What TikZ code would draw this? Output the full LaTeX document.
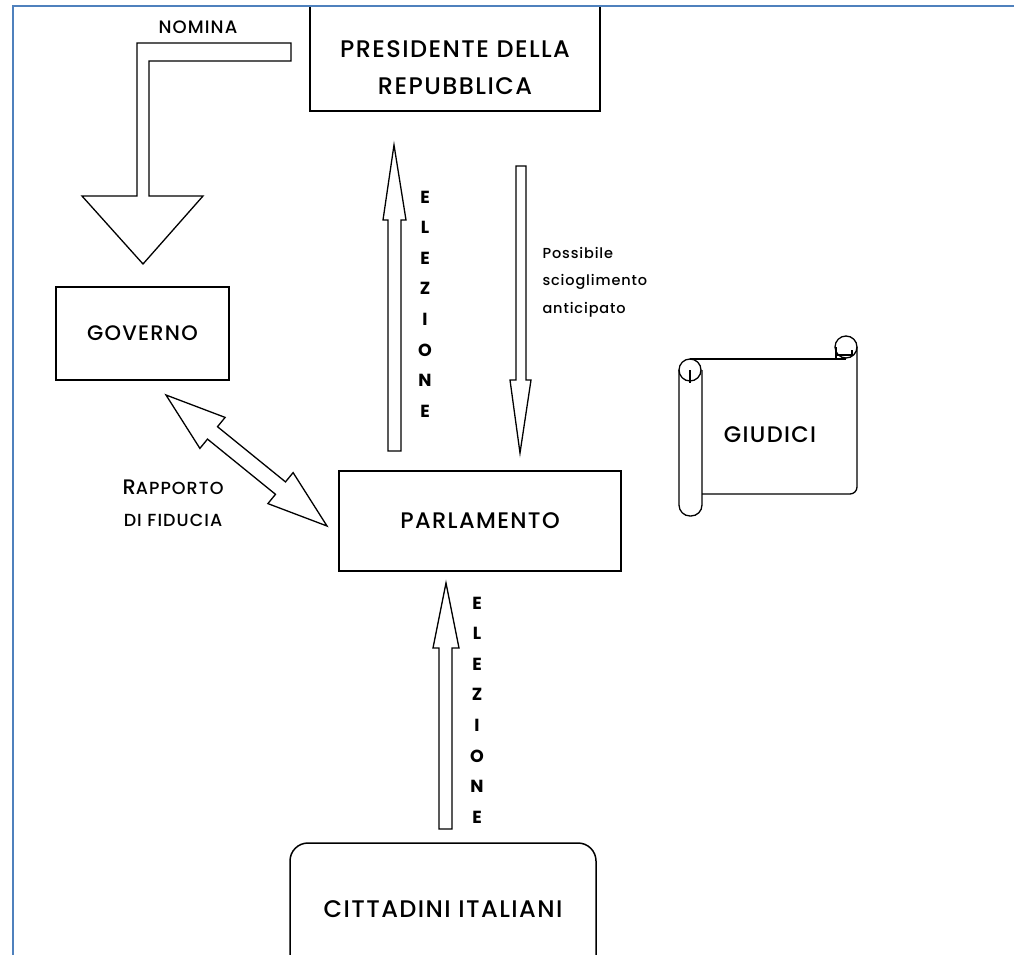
\documentclass[tikz,border=0pt]{standalone}
\usepackage{fontspec}
\setmainfont{Poppins}[LetterSpace=6,BoldFont={Poppins Medium}]
\newfontfamily\elfont{Poppins}
\definecolor{framebl}{HTML}{4F81BD}
\tikzset{
  box/.style={draw=black, line width=1.5pt, inner sep=0pt},
  blockarrow/.style={draw=black, line width=1.3pt, fill=white, line join=miter},
  lettere/.style={font=\elfont\fontsize{17.5}{30.6}\selectfont\bfseries, align=center, inner sep=0pt},
}

\begin{document}
\begin{tikzpicture}[x=1pt,y=-1pt]
  \useasboundingbox (0,0) rectangle (1014,955);
  \fill[white] (0,0) rectangle (1014,955);

  % caselle
  \draw[black,line width=1.5pt] (310,6) -- (310,111) -- (600,111) -- (600,6);
  \node[font=\fontsize{24}{37}\selectfont\bfseries, align=center] (presidente) at (455,68) {PRESIDENTE DELLA\\REPUBBLICA};
  \node[box, minimum width=173, minimum height=93, font=\fontsize{21}{25}\selectfont\bfseries] (governo) at (142.5,333.5) {GOVERNO};
  \node[box, minimum width=282, minimum height=100, font=\fontsize{22.5}{26}\selectfont\bfseries] (parlamento) at (480,521) {PARLAMENTO};
  \node[box, rounded corners=18, minimum width=306, minimum height=132, font=\fontsize{24}{27}\selectfont\bfseries] (cittadini) at (443,909) {CITTADINI ITALIANI};

  % nomina
  \draw[blockarrow] (291,43) -- (137,43) -- (137,196) -- (82,196) -- (143,264) -- (203,196) -- (149,196) -- (149,61) -- (291,61) -- cycle;
  \node[font=\fontsize{18}{22}\selectfont\bfseries] (nomina) at (198,27) {NOMINA};

  % elezione del presidente
  \draw[blockarrow] (388,451) -- (388,220) -- (383,220) -- (394,145) -- (406,220) -- (401,220) -- (401,451) -- cycle;
  \node[lettere] (elezione1) at (425,304) {E\\L\\E\\Z\\I\\O\\N\\E};

  % scioglimento
  \draw[blockarrow] (516,166) -- (526,166) -- (526,380) -- (531,380) -- (520,453) -- (510,380) -- (516,380) -- cycle;
  \node[font=\fontsize{14.5}{27.5}\selectfont\bfseries, align=left, anchor=west] (sciogl) at (539,282) {Possibile\\scioglimento\\anticipato};

  % elezione del parlamento
  \draw[blockarrow] (439,829) -- (439,648) -- (433,648) -- (446,583) -- (459,648) -- (452,648) -- (452,829) -- cycle;
  \node[lettere] (elezione2) at (477,710) {E\\L\\E\\Z\\I\\O\\N\\E};

  % rapporto di fiducia
  \draw[blockarrow] (166,395) -- (225.1,417.4) -- (217.5,426.7) -- (285.5,481.9) -- (293.1,472.6) -- (327,526)
    -- (267.9,503.6) -- (275.5,494.3) -- (207.5,439.1) -- (199.9,448.4) -- cycle;
  \node[font=\fontsize{17.5}{32}\selectfont\bfseries, align=center] (fiducia) at (173,503)
    {{\fontsize{21}{32}\selectfont R}APPORTO\\DI FIDUCIA};

  % giudici
  \draw[black,line width=1.3pt,rounded corners=11] (679,370) -- (679,516) -- (702,516) -- (702,370);
  \draw[black,line width=1.3pt] (690,370) circle (11);
  \draw[black,line width=1.3pt] (690,370) -- (690,383);
  \draw[black,line width=1.3pt] (690,359) -- (846,359);
  \draw[black,line width=1.3pt,rounded corners=7] (857,347) -- (857,494) -- (702,494);
  \draw[black,line width=1.3pt] (846,347) circle (11);
  \draw[black,line width=1.3pt] (836,347) -- (836,359);
  \draw[black,line width=1.3pt] (836,355) -- (852,355) -- (852,350);
  \node[font=\fontsize{22.5}{26}\selectfont\bfseries] (giudici) at (770,435) {GIUDICI};

  % cornice
  \draw[framebl,line width=2.2pt] (13,955) -- (13,6) -- (1014,6);
\end{tikzpicture}
\end{document}
